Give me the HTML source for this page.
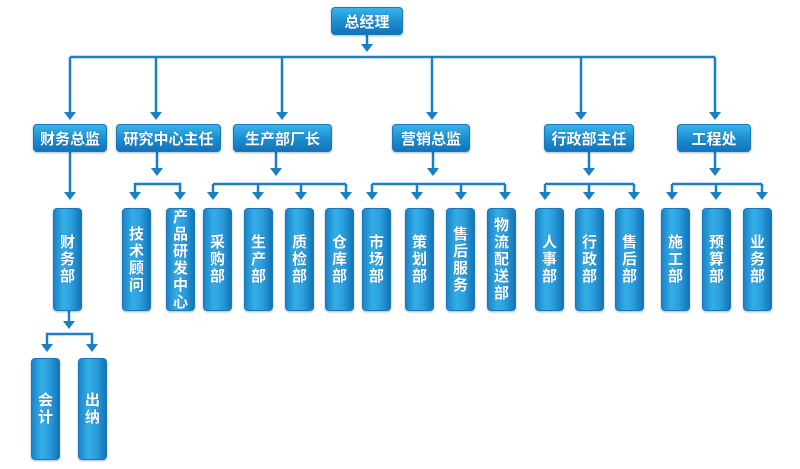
<!DOCTYPE html>
<html><head><meta charset="utf-8"><style>
html,body{margin:0;padding:0;background:#fff;}
#c{position:relative;width:800px;height:469px;overflow:hidden;font-family:"Liberation Sans","Noto Sans CJK SC",sans-serif;}
svg{position:absolute;left:0;top:0;}
.b{position:absolute;box-sizing:border-box;border-radius:4px;color:#fff;font-weight:bold;
background:linear-gradient(to bottom,#38b4ea 0%,#1c8fd3 50%,#1373b8 100%);border:1px solid #1a78b8;
box-shadow:0 1px 2px rgba(0,60,120,.35);display:flex;align-items:center;justify-content:center;text-shadow:0 0 1px rgba(0,40,90,.5);}
.h{font-size:15px;}
.v{background:linear-gradient(to right,#1a84c8 0%,#34aee6 35%,#2a9ddc 65%,#1574b8 100%);flex-direction:column;font-size:15px;line-height:17px;}
</style></head><body><div id="c">
<svg width="800" height="469">
<g stroke="#1b7fc3" stroke-width="2.5" fill="none">
<line x1="367" y1="35" x2="367" y2="46"/>
<line x1="70" y1="57" x2="715" y2="57"/>
<line x1="70" y1="57" x2="70" y2="112"/><line x1="156" y1="57" x2="156" y2="112"/>
<line x1="282" y1="57" x2="282" y2="112"/><line x1="432" y1="57" x2="432" y2="112"/>
<line x1="581" y1="57" x2="581" y2="112"/><line x1="715" y1="57" x2="715" y2="112"/>
<line x1="70" y1="152" x2="70" y2="192"/>
<line x1="157" y1="152" x2="157" y2="168"/><line x1="276" y1="152" x2="276" y2="168"/>
<line x1="433" y1="152" x2="433" y2="168"/><line x1="589" y1="152" x2="589" y2="168"/>
<line x1="715" y1="152" x2="715" y2="168"/>
<polyline points="135,192 135,184 180,184 180,192"/>
<line x1="213" y1="184" x2="346" y2="184"/><line x1="213" y1="184" x2="213" y2="192"/><line x1="258" y1="184" x2="258" y2="192"/><line x1="301" y1="184" x2="301" y2="192"/><line x1="346" y1="184" x2="346" y2="192"/>
<line x1="372" y1="184" x2="505" y2="184"/><line x1="372" y1="184" x2="372" y2="192"/><line x1="417" y1="184" x2="417" y2="192"/><line x1="461" y1="184" x2="461" y2="192"/><line x1="505" y1="184" x2="505" y2="192"/>
<line x1="545" y1="184" x2="634" y2="184"/><line x1="545" y1="184" x2="545" y2="192"/><line x1="589" y1="184" x2="589" y2="192"/><line x1="634" y1="184" x2="634" y2="192"/>
<line x1="672" y1="184" x2="762" y2="184"/><line x1="672" y1="184" x2="672" y2="192"/><line x1="716" y1="184" x2="716" y2="192"/><line x1="762" y1="184" x2="762" y2="192"/>
<line x1="69" y1="311" x2="69" y2="322"/>
<polyline points="47,344 47,334 92,334 92,344"/>
</g>
<g fill="#1b7fc3">
<polygon points="361,44 373,44 367,52"/>
<polygon points="64,112 76,112 70,120"/><polygon points="150,112 162,112 156,120"/><polygon points="276,112 288,112 282,120"/>
<polygon points="426,112 438,112 432,120"/><polygon points="575,112 587,112 581,120"/><polygon points="709,112 721,112 715,120"/>
<polygon points="64,192 76,192 70,200"/>
<polygon points="151,168 163,168 157,176"/><polygon points="270,168 282,168 276,176"/><polygon points="427,168 439,168 433,176"/>
<polygon points="583,168 595,168 589,176"/><polygon points="709,168 721,168 715,176"/>
<polygon points="129,192 141,192 135,200"/><polygon points="174,192 186,192 180,200"/>
<polygon points="207,192 219,192 213,200"/><polygon points="252,192 264,192 258,200"/><polygon points="295,192 307,192 301,200"/><polygon points="340,192 352,192 346,200"/>
<polygon points="366,192 378,192 372,200"/><polygon points="411,192 423,192 417,200"/><polygon points="455,192 467,192 461,200"/><polygon points="499,192 511,192 505,200"/>
<polygon points="539,192 551,192 545,200"/><polygon points="583,192 595,192 589,200"/><polygon points="628,192 640,192 634,200"/>
<polygon points="666,192 678,192 672,200"/><polygon points="710,192 722,192 716,200"/><polygon points="756,192 768,192 762,200"/>
<polygon points="63,321 75,321 69,329"/>
<polygon points="41,344 53,344 47,352"/><polygon points="86,344 98,344 92,352"/>
</g>
</svg>
<div class="b h" style="left:331px;top:7px;width:72px;height:28px;">总经理</div>
<div class="b h" style="left:33px;top:124px;width:74px;height:28px;">财务总监</div>
<div class="b h" style="left:116px;top:124px;width:105px;height:28px;">研究中心主任</div>
<div class="b h" style="left:233px;top:124px;width:99px;height:28px;">生产部厂长</div>
<div class="b h" style="left:392px;top:124px;width:78px;height:28px;">营销总监</div>
<div class="b h" style="left:544px;top:124px;width:90px;height:28px;">行政部主任</div>
<div class="b h" style="left:677px;top:124px;width:74px;height:28px;">工程处</div>

<div class="b v" style="left:53px;top:208px;width:29px;height:103px;"><span>财</span><span>务</span><span>部</span></div>
<div class="b v" style="left:122px;top:208px;width:29px;height:103px;"><span>技</span><span>术</span><span>顾</span><span>问</span></div>
<div class="b v" style="left:166px;top:208px;width:29px;height:103px;"><span>产</span><span>品</span><span>研</span><span>发</span><span>中</span><span>心</span></div>
<div class="b v" style="left:203px;top:208px;width:29px;height:103px;"><span>采</span><span>购</span><span>部</span></div>
<div class="b v" style="left:244px;top:208px;width:29px;height:103px;"><span>生</span><span>产</span><span>部</span></div>
<div class="b v" style="left:285px;top:208px;width:29px;height:103px;"><span>质</span><span>检</span><span>部</span></div>
<div class="b v" style="left:325px;top:208px;width:29px;height:103px;"><span>仓</span><span>库</span><span>部</span></div>
<div class="b v" style="left:362px;top:208px;width:29px;height:103px;"><span>市</span><span>场</span><span>部</span></div>
<div class="b v" style="left:405px;top:208px;width:29px;height:103px;"><span>策</span><span>划</span><span>部</span></div>
<div class="b v" style="left:446px;top:208px;width:29px;height:103px;"><span>售</span><span>后</span><span>服</span><span>务</span></div>
<div class="b v" style="left:487px;top:208px;width:29px;height:103px;"><span>物</span><span>流</span><span>配</span><span>送</span><span>部</span></div>
<div class="b v" style="left:535px;top:208px;width:29px;height:103px;"><span>人</span><span>事</span><span>部</span></div>
<div class="b v" style="left:575px;top:208px;width:29px;height:103px;"><span>行</span><span>政</span><span>部</span></div>
<div class="b v" style="left:615px;top:208px;width:29px;height:103px;"><span>售</span><span>后</span><span>部</span></div>
<div class="b v" style="left:661px;top:208px;width:29px;height:103px;"><span>施</span><span>工</span><span>部</span></div>
<div class="b v" style="left:702px;top:208px;width:29px;height:103px;"><span>预</span><span>算</span><span>部</span></div>
<div class="b v" style="left:743px;top:208px;width:29px;height:103px;"><span>业</span><span>务</span><span>部</span></div>
<div class="b v" style="left:31px;top:358px;width:29px;height:102px;"><span>会</span><span>计</span></div>
<div class="b v" style="left:78px;top:358px;width:29px;height:102px;"><span>出</span><span>纳</span></div>
</div></body></html>
